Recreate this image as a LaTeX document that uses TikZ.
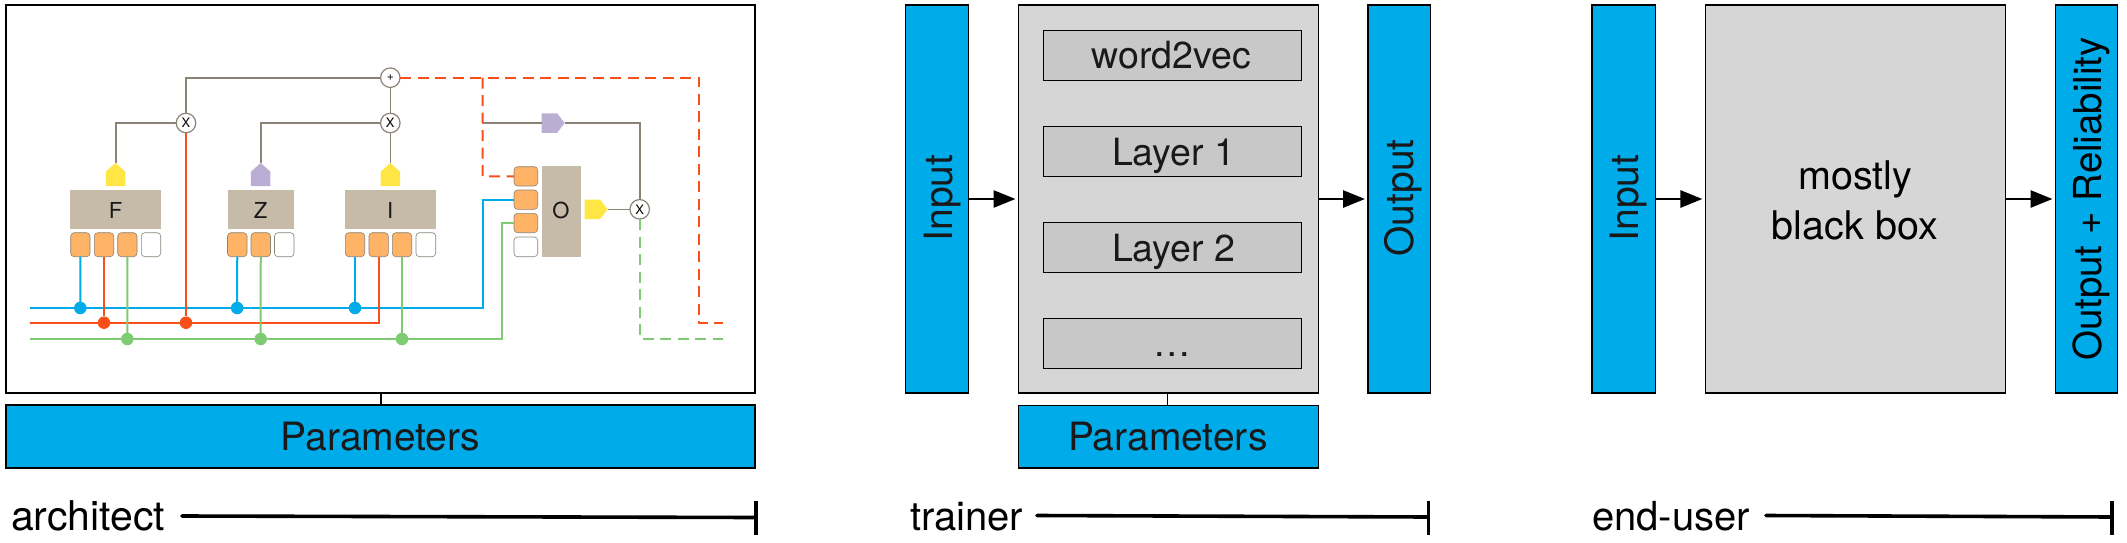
\documentclass[tikz,border=0pt]{standalone}
\usepackage{fontspec}
\setmainfont{TeX Gyre Heros}
\usetikzlibrary{arrows.meta}
\definecolor{cblue}{HTML}{00ABE9}
\definecolor{cbig}{HTML}{D6D6D6}
\definecolor{cinner}{HTML}{C8C8C8}
\definecolor{ctan}{HTML}{C6BAA8}
\definecolor{corange}{HTML}{FFB366}
\definecolor{cyellow}{HTML}{FFE644}
\definecolor{cpurple}{HTML}{BBAED4}
\definecolor{cgreen}{HTML}{7FCB73}
\definecolor{cred}{HTML}{F94F1B}
\definecolor{cgrayline}{HTML}{8B8375}
\newcommand{\boxat}[6]{%
  \pgfmathsetmacro\bcx{(#3+#5)/2}\pgfmathsetmacro\bcy{(#4+#6)/2}%
  \pgfmathsetmacro\bw{abs(#5-#3)}\pgfmathsetmacro\bh{abs(#6-#4)}%
  \node[#1,minimum width=\bw pt,minimum height=\bh pt] (#2) at (\bcx,\bcy) {};}
% upward tag: name, x of the axis, y of the bottom edge, colour
\newcommand{\tagup}[4]{%
  \fill[#4] ({#2-9.75},#3) -- ({#2-9.75},{#3-14.3}) -- (#2,{#3-23}) -- ({#2+9.75},{#3-14.3}) -- ({#2+9.75},#3) -- cycle;
  \node[tagn] (#1) at (#2,#3) {};}
% rightward tag: name, x of the left edge, y of the axis, colour
\newcommand{\tagright}[4]{%
  \fill[#4] (#2,{#3-9.75}) -- ({#2+15.3},{#3-9.75}) -- ({#2+23},#3) -- ({#2+15.3},{#3+9.75}) -- (#2,{#3+9.75}) -- cycle;
  \node[tage] (#1) at (#2,#3) {};}
\tikzset{
  x=1pt,y=-1pt,
  every node/.style={inner sep=0pt,outer sep=0pt},
  bluebox/.style={rectangle,draw=black,line width=1.3pt,fill=cblue},
  bigbox/.style={rectangle,draw=black,line width=1.3pt,fill=cbig},
  innerbox/.style={rectangle,draw=black,line width=1pt,fill=cinner},
  framebox/.style={rectangle,draw=black,line width=1.6pt,fill=white},
  tanbox/.style={rectangle,fill=ctan},
  portbox/.style={rectangle,rounded corners=3.5pt,draw=cgrayline,line width=0.6pt},
  fullport/.style={portbox,fill=corange},
  emptyport/.style={portbox,fill=white},
  biglabel/.style={font=\fontsize{39}{44}\selectfont,text=black!90},
  sidelabel/.style={font=\fontsize{40}{44}\selectfont,text=black},
  smalllabel/.style={font=\fontsize{22}{24}\selectfont,text=black!90},
  layerlabel/.style={font=\fontsize{37.5}{40}\selectfont,text=black!90},
  opnode/.style={circle,draw=cgrayline,line width=1.2pt,fill=white,minimum size=19.5pt,font=\fontsize{13}{13}\selectfont},
  tagn/.style={rectangle,minimum width=19.5pt,minimum height=23pt,anchor=south},
  tage/.style={rectangle,minimum width=23pt,minimum height=19.5pt,anchor=west},
  jdot/.style={circle,minimum size=12.5pt},
  wire/.style={line width=2pt,line join=miter},
  gthick/.style={draw=cgrayline,line width=2pt},
  gthin/.style={draw=cgrayline,line width=1pt},
  dashw/.style={line width=2pt,dash pattern=on 11pt off 6.5pt},
  linkline/.style={draw=black,line width=1.3pt},
  flowline/.style={draw=black,line width=2.8pt,-{Triangle[length=22pt,width=17pt]},shorten >=3pt},
  rangeline/.style={draw=black,line width=3.6pt,line cap=round},
  tickline/.style={draw=black,line width=3.6pt},
}
\begin{document}
\begin{tikzpicture}
\useasboundingbox (0,0) rectangle (2127,543);
% ---------- panel 1
\boxat{framebox}{frame}{6}{5}{755}{393}
\boxat{bluebox}{par1}{6}{405}{755}{468}
\node[biglabel,anchor=base] (par1t) at (380.6,450.5) {Parameters};
\coordinate (fr1) at (381,393); \coordinate (pr1) at (381,405);
\draw[linkline] (fr1) -- (pr1);
% function boxes
\boxat{tanbox}{F}{70}{190}{161}{228.7}
\boxat{tanbox}{Z}{228}{190}{294}{228.7}
\boxat{tanbox}{I}{345}{190}{436}{228.7}
\boxat{tanbox}{O}{542}{166}{581}{256.7}
\node[smalllabel,anchor=base] (Ft) at (115.5,218) {F};
\node[smalllabel,anchor=base] (Zt) at (260.7,218) {Z};
\node[smalllabel,anchor=base] (It) at (390.3,218) {I};
\node[smalllabel,anchor=base] (Ot) at (561,218) {O};
% ports
\boxat{fullport}{F1}{70.7}{232.7}{90}{256.7}
\boxat{fullport}{F2}{94.3}{232.7}{113.7}{256.7}
\boxat{fullport}{F3}{117.7}{232.7}{137}{256.7}
\boxat{emptyport}{F4}{141.3}{232.7}{160.7}{256.7}
\boxat{fullport}{Z1}{227.5}{232.7}{247}{256.7}
\boxat{fullport}{Z2}{251}{232.7}{270.5}{256.7}
\boxat{emptyport}{Z3}{274.5}{232.7}{294}{256.7}
\boxat{fullport}{I1}{345.3}{232.7}{364.7}{256.7}
\boxat{fullport}{I2}{369}{232.7}{388.3}{256.7}
\boxat{fullport}{I3}{392.3}{232.7}{411.7}{256.7}
\boxat{emptyport}{I4}{416}{232.7}{435.7}{256.7}
\boxat{fullport}{O1}{514}{166.7}{537.7}{186}
\boxat{fullport}{O2}{514}{190}{537.7}{209.3}
\boxat{fullport}{O3}{514}{213.3}{537.7}{232.7}
\boxat{emptyport}{O4}{514}{237}{537.7}{256.7}
% tags
\tagup{tF}{115.5}{186}{cyellow}
\tagup{tZ}{260.7}{186}{cpurple}
\tagup{tI}{390.3}{186}{cyellow}
\tagright{tO}{584.7}{209.3}{cyellow}
\tagright{tP}{541.7}{123}{cpurple}
% operators
\node[opnode,font=\fontsize{12}{12}\selectfont] (plus) at (390.3,77.7) {+};
\node[opnode] (x1) at (186,123) {X};
\node[opnode] (x2) at (390.3,123) {X};
\node[opnode] (x3) at (639.7,209.3) {X};
% junctions
\node[jdot,fill=cblue] (jb1) at (80.3,308) {};
\node[jdot,fill=cblue] (jb2) at (237.2,308) {};
\node[jdot,fill=cblue] (jb3) at (355,308) {};
\node[jdot,fill=cred] (jr1) at (104,322.7) {};
\node[jdot,fill=cred] (jr2) at (186,322.7) {};
\node[jdot,fill=cgreen] (jg1) at (127.3,339) {};
\node[jdot,fill=cgreen] (jg2) at (260.7,339) {};
\node[jdot,fill=cgreen] (jg3) at (402,339) {};
% wire ends
\coordinate (bs) at (30.3,308); \coordinate (rs) at (30.3,322.7); \coordinate (gs) at (30.3,339);
\coordinate (bc) at (483,308); \coordinate (bu) at (483,199.65);
\coordinate (rc) at (378.65,322.7);
\coordinate (gc) at (502.3,339); \coordinate (gu) at (502.3,223);
\coordinate (ga) at (186,77.7); \coordinate (gb) at (115.5,123); \coordinate (gd) at (260.7,123);
\coordinate (ge) at (482.7,123); \coordinate (gf) at (639.7,123);
\coordinate (rd1) at (482.7,77.7); \coordinate (rd2) at (699,77.7); \coordinate (rd3) at (699,323.3); \coordinate (rd4) at (722.7,323.3);
\coordinate (rd5) at (482.7,176.35);
\coordinate (gd1) at (639.7,338.7); \coordinate (gd2) at (723,338.7);
% coloured wires
\draw[wire,cblue] (bs) -- (jb1.center) -- (jb2.center) -- (jb3.center) -- (bc) -- (bu) -- (O2.west);
\draw[wire,cred] (rs) -- (jr1.center) -- (jr2.center) -- (rc) -- (I2.south);
\draw[wire,cgreen] (gs) -- (jg1.center) -- (jg2.center) -- (jg3.center) -- (gc) -- (gu) -- (O3.west);
\draw[wire,cblue] (F1.south) -- (jb1);
\draw[wire,cblue] (Z1.south) -- (jb2);
\draw[wire,cblue] (I1.south) -- (jb3);
\draw[wire,cred] (F2.south) -- (jr1);
\draw[wire,cred] (x1.south) -- (jr2);
\draw[wire,cgreen] (F3.south) -- (jg1);
\draw[wire,cgreen] (Z2.south) -- (jg2);
\draw[wire,cgreen] (I3.south) -- (jg3);
% grey wires
\draw[gthick] (plus.west) -- (ga) -- (x1.north);
\draw[gthick] (x1.west) -- (gb) -- (tF.north);
\draw[gthick] (x2.west) -- (gd) -- (tZ.north);
\draw[gthin] (plus.south) -- (x2.north);
\draw[gthin] (x2.south) -- (tI.north);
\draw[gthick] (ge) -- (tP.west);
\draw[gthick] (tP.east) -- (gf) -- (x3.north);
\draw[gthin] (tO.east) -- (x3.west);
% dashed wires
\draw[dashw,cred] (plus.east) -- (rd2) -- (rd3) -- (rd4);
\draw[dashw,cred] (rd1) -- (rd5) -- (O1.west);
\draw[dashw,cgreen] (x3.south) -- (gd1) -- (gd2);
% range 1
\node[sidelabel,anchor=base west,font=\fontsize{41}{44}\selectfont] (arch) at (11,530) {architect};
\coordinate (a1) at (182,516); \coordinate (a2) at (755.5,517.5);
\coordinate (a3) at (756,501); \coordinate (a4) at (756,535);
\draw[rangeline] (a1) -- (a2);
\draw[tickline] (a3) -- (a4);
% ---------- panel 2
\boxat{bluebox}{in2}{905.3}{5}{968.8}{393}
\boxat{bigbox}{net}{1018.5}{5}{1318.2}{393}
\boxat{bluebox}{out2}{1368}{5}{1430.3}{393}
\node[biglabel,rotate=90,anchor=base] (in2t) at (952,198) {Input};
\node[biglabel,rotate=90,anchor=base] (out2t) at (1413.9,198) {Output};
\boxat{innerbox}{l0}{1043.4}{30.5}{1301.7}{80.3}
\boxat{innerbox}{l1}{1043.4}{126.4}{1301.7}{176}
\boxat{innerbox}{l2}{1043.4}{222}{1301.7}{272.5}
\boxat{innerbox}{l3}{1043.4}{318}{1301.7}{368}
\node[layerlabel,anchor=base] (l0t) at (1171.6,69) {word2vec};
\node[layerlabel,anchor=base west] (l1t) at (1112,165.5) {Layer 1};
\node[layerlabel,anchor=base west] (l2t) at (1112,261.5) {Layer 2};
\node[layerlabel,anchor=base] (l3t) at (1172,356.5) {…};
\draw[flowline] (in2) -- (net);
\draw[flowline] (net) -- (out2);
\boxat{bluebox}{par2}{1018.5}{405.5}{1318.2}{468}
\node[biglabel,anchor=base] (par2t) at (1167.8,450.5) {Parameters};
\coordinate (fr2) at (1167.8,393); \coordinate (pr2) at (1167.8,405.5);
\draw[linkline] (fr2) -- (pr2);
\node[sidelabel,anchor=base west] (train) at (910,530) {trainer};
\coordinate (b1) at (1037,515.5); \coordinate (b2) at (1428,517);
\coordinate (b3) at (1428.5,500.5); \coordinate (b4) at (1428.5,535);
\draw[rangeline] (b1) -- (b2);
\draw[tickline] (b3) -- (b4);
% ---------- panel 3
\boxat{bluebox}{in3}{1592}{5}{1655.5}{393}
\boxat{bigbox}{blk}{1705.4}{5}{2005.6}{393}
\boxat{bluebox}{out3}{2055.5}{5}{2117.3}{393}
\node[biglabel,rotate=90,anchor=base] (in3t) at (1638.5,198) {Input};
\node[sidelabel,rotate=90,anchor=base,font=\fontsize{38.5}{44}\selectfont] (out3t) at (2101.4,199) {Output + Reliability};
\node[sidelabel,anchor=center,align=center,font=\fontsize{39.5}{49.3}\selectfont] (blkt) at (1855,200.5) {mostly\\black box};
\draw[flowline] (in3) -- (blk);
\draw[flowline] (blk) -- (out3);
\node[sidelabel,anchor=base west] (enduser) at (1592,530) {end-user};
\coordinate (c1) at (1766,515.5); \coordinate (c2) at (2112,517);
\coordinate (c3) at (2112,500.5); \coordinate (c4) at (2112,535);
\draw[rangeline] (c1) -- (c2);
\draw[tickline] (c3) -- (c4);
\end{tikzpicture}
\end{document}
